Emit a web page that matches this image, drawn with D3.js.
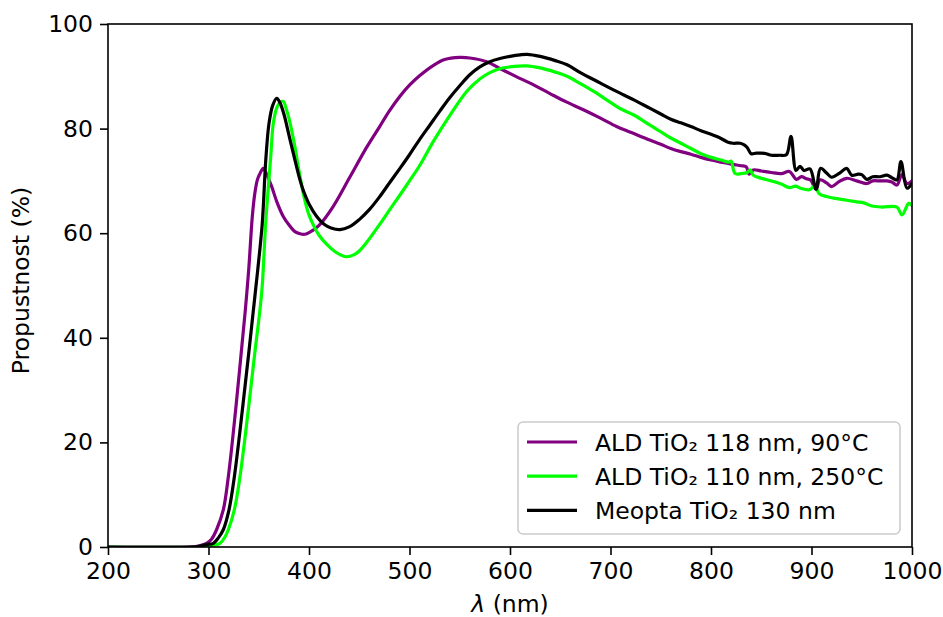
<!DOCTYPE html>
<html>
<head>
<meta charset="utf-8">
<script src="https://cdn.jsdelivr.net/npm/d3@7"></script>
<style>
  html, body { margin: 0; padding: 0; background: #ffffff; }
  svg { display: block; font-family: "DejaVu Sans", sans-serif; }
</style>
</head>
<body>
<svg id="chart" width="943" height="617"></svg>
<script>
// ---------- data ----------
const xTicks = [200, 300, 400, 500, 600, 700, 800, 900, 1000];
const yTicks = [0, 20, 40, 60, 80, 100];
const seriesLabels = ["ALD TiO₂ 118 nm, 90°C", "ALD TiO₂ 110 nm, 250°C", "Meopta TiO₂ 130 nm"];
const seriesColors = ["#800080", "#00ff00", "#000000"];

// ALD TiO2 118 nm, 90 °C
const purpleX = [200, 250, 280, 290, 298, 303, 308, 314.7, 319.7, 327, 332, 336.5, 340, 343.6, 346, 348.6, 351, 354.5, 358, 362.9, 368, 374.4, 380, 386, 391, 396, 400,
  410, 424, 440, 457.6, 470, 480, 490.5, 500, 510, 523.9, 535, 550, 560, 576.8, 590, 606.7, 620, 639.8, 656, 673, 690, 706, 720, 739,
  750, 760, 770, 780, 790, 800, 810, 820, 830, 835, 838, 842, 850, 860, 870, 878, 885, 890, 895, 899, 904.5, 908.5, 915, 920, 927, 935,
  945, 955, 961, 968, 975, 980, 985, 990, 995, 1000];
const purpleY = [0, 0, 0.05, 0.2, 0.7, 1.5, 3.3, 7.1, 13.4, 26.2, 36, 45, 53, 63.2, 67.5, 70.2, 71.3, 72.4, 71.2, 68.9, 66, 63.2, 61.6, 60.3, 59.9, 59.8, 60.1,
  61.5, 65.1, 70.5, 76.5, 80.3, 83.4, 86.2, 88.3, 90.1, 92.1, 93.2, 93.6, 93.5, 92.8, 91.5, 89.9, 88.7, 86.7, 85.1, 83.6, 82, 80.4, 79.3, 77.8,
  77, 76.2, 75.6, 75.1, 74.5, 74, 73.6, 73.2, 72.9, 72.7, 71.3, 72.1, 71.9, 71.6, 71.4, 71.8, 70.3, 70.8, 70.4, 70.2, 68.4, 70.2, 69.6, 68.9, 69.8, 70.5,
  70, 69.5, 70, 70, 70, 69.8, 69.2, 71.2, 69.5, 70];

// ALD TiO2 110 nm, 250 °C
const greenX = [200, 295, 303, 311.4, 316, 319.7, 325.7, 331.3, 339.6, 346, 351, 353.5, 356.9, 361.9, 364.5, 368, 371, 374.4, 377, 380, 385, 390, 395, 400, 405, 410, 418, 425, 430, 437, 445, 450,
  457.6, 470, 480, 490.5, 500, 510, 523.9, 540, 557.3, 570, 580, 590.5, 600, 616.6, 630, 645, 656.8, 670, 683.3, 700, 710, 723.2, 739,
  750, 760, 770, 780, 790, 800, 810, 818, 820, 824, 830, 836, 839, 842, 850, 860, 870, 878, 884, 889, 898, 903, 908, 915, 922, 935,
  945, 952, 960, 970, 985, 990, 996.8, 1000];
const greenY = [0, 0, 0.2, 0.7, 1.8, 3.3, 7.1, 13.4, 26.2, 37, 45, 50, 61.9, 74.6, 81, 84, 85, 85.2, 84, 82, 77.5, 72, 67, 63.5, 61.3, 59.6, 57.8, 56.6, 56, 55.5, 55.9, 56.6,
  58.3, 61.6, 64.4, 67.3, 70, 72.9, 77.6, 82.5, 87.2, 89.5, 90.7, 91.5, 91.8, 92, 91.6, 90.8, 90, 88.6, 87.1, 85, 83.8, 82.6, 80.7,
  79.4, 78.2, 77.2, 76.2, 75.2, 74.5, 74, 73.6, 73.8, 71.4, 71.4, 71.6, 72.1, 71.1, 70.5, 70, 69.4, 68.7, 69, 68.6, 68.3, 69, 67.5, 67, 66.7, 66.3,
  66, 65.8, 65.2, 65, 65, 63.5, 65.7, 65.3];

// Meopta TiO2 130 nm
const blackX = [200, 285, 292, 299, 304.8, 310, 314.7, 320.4, 325.7, 333.7, 340, 344.5, 349, 353.5, 357, 360.2, 364, 367.9, 371, 375, 380, 385, 391, 395, 400, 407.7, 415, 422, 430.8, 440, 450,
  460, 470, 480, 490.5, 500, 510, 520, 530, 540, 550, 560, 570, 580, 590, 600, 610, 617, 630, 645, 656.8, 670, 690, 705, 723.2, 739,
  750, 760, 770, 780, 790, 800, 810, 817, 822, 829, 833, 836, 840, 845, 850, 855, 860, 868, 875, 879.6, 884.6, 888.6, 892.5, 898.5, 904.5, 909, 915, 920, 928, 935,
  940, 946.5, 950, 955, 961, 968, 975, 980, 985, 989, 995, 1000];
const blackY = [0, 0, 0.2, 0.5, 0.7, 1.8, 3.3, 7.1, 13.4, 26.2, 37, 45, 53, 61.9, 74, 81, 84.5, 85.8, 85, 82.8, 78.8, 74.8, 70.2, 67.8, 65.6, 63.2, 61.7, 61, 60.7, 61.2, 62.6,
  64.5, 66.9, 69.6, 72.4, 75, 77.9, 80.6, 83.3, 85.9, 88.2, 90.3, 91.8, 92.8, 93.4, 93.8, 94.1, 94.2, 93.8, 93, 92.2, 90.7, 88.7, 87.2, 85.5, 83.9,
  82.8, 81.8, 81.1, 80.4, 79.6, 78.9, 78.1, 77.4, 77.2, 77.2, 76.9, 76.4, 75.2, 75.3, 75.3, 75.2, 74.9, 74.9, 75, 78.5, 72, 72.8, 72, 72.3, 68.4, 72.4, 71.5, 70.7, 71.5, 72.4,
  71.1, 71.3, 71.2, 70.3, 70.8, 70.8, 71.1, 70.6, 70.2, 73.7, 68.6, 69.5];

// ---------- layout ----------
const svg = d3.select("#chart");
const margin = { left: 108, right: 31, top: 24, bottom: 70 };
const W = 943, H = 617;
const x = d3.scaleLinear().domain([200, 1000]).range([margin.left, W - margin.right]);
const y = d3.scaleLinear().domain([0, 100]).range([H - margin.bottom, margin.top]);
const FS = 23.5;

svg.append("defs").append("clipPath").attr("id", "clip")
  .append("rect").attr("x", x(200)).attr("y", y(100)).attr("width", x(1000) - x(200)).attr("height", y(0) - y(100));

const series = [
  { xs: purpleX, ys: purpleY },
  { xs: greenX, ys: greenY },
  { xs: blackX, ys: blackY }
];

const line = d3.line().x(d => x(d[0])).y(d => y(d[1])).curve(d3.curveCatmullRom.alpha(0.5));

const gLines = svg.append("g").attr("clip-path", "url(#clip)");
series.forEach((s, i) => {
  const pts = s.xs.map((v, k) => [v, Math.max(0, s.ys[k])]);
  gLines.append("path").datum(pts)
    .attr("d", line)
    .attr("fill", "none")
    .attr("stroke", seriesColors[i])
    .attr("stroke-width", 3.2)
    .attr("stroke-linejoin", "round")
    .attr("stroke-linecap", "square");
});

// axes
const xAxis = d3.axisBottom(x).tickValues(xTicks).tickSize(8).tickPadding(7).tickFormat(d3.format("d"));
const yAxis = d3.axisLeft(y).tickValues(yTicks).tickSize(8).tickPadding(7).tickFormat(d3.format("d"));

const gx = svg.append("g").attr("transform", `translate(0,${y(0)})`).call(xAxis);
const gy = svg.append("g").attr("transform", `translate(${x(200)},0)`).call(yAxis);
[gx, gy].forEach(g => {
  g.select(".domain").remove();
  g.selectAll(".tick line").attr("stroke", "#000").attr("stroke-width", 1.6);
  g.selectAll(".tick text").attr("fill", "#000").style("font-size", FS + "px").style("font-family", "DejaVu Sans");
});

// frame
svg.append("rect")
  .attr("x", x(200)).attr("y", y(100))
  .attr("width", x(1000) - x(200)).attr("height", y(0) - y(100))
  .attr("fill", "none").attr("stroke", "#000").attr("stroke-width", 1.6);

// axis labels
const xl = svg.append("text")
  .attr("x", (x(200) + x(1000)) / 2).attr("y", 612)
  .attr("text-anchor", "middle").style("font-size", FS + "px");
xl.append("tspan").style("font-style", "italic").text("λ");
xl.append("tspan").text(" (nm)");

svg.append("text")
  .attr("transform", `translate(29,${(y(0) + y(100)) / 2 - 5}) rotate(-90)`)
  .attr("text-anchor", "middle").style("font-size", FS + "px")
  .text("Propustnost (%)");

// legend
const lgW = 382, lgH = 112;
const lgX = x(1000) - 12 - lgW, lgY = y(0) - 13 - lgH;
const lg = svg.append("g").attr("transform", `translate(${lgX},${lgY})`);
lg.append("rect").attr("width", lgW).attr("height", lgH).attr("rx", 5).attr("ry", 5)
  .attr("fill", "#ffffff").attr("fill-opacity", 0.8)
  .attr("stroke", "#cccccc").attr("stroke-width", 1.6);
seriesLabels.forEach((lab, i) => {
  const cy = 20 + i * 34.2;
  lg.append("line").attr("x1", 9).attr("x2", 59).attr("y1", cy).attr("y2", cy)
    .attr("stroke", seriesColors[i]).attr("stroke-width", 3.2);
  lg.append("text").attr("x", 77).attr("y", cy + 8.5)
    .style("font-size", FS + "px").text(lab);
});
</script>
</body>
</html>
